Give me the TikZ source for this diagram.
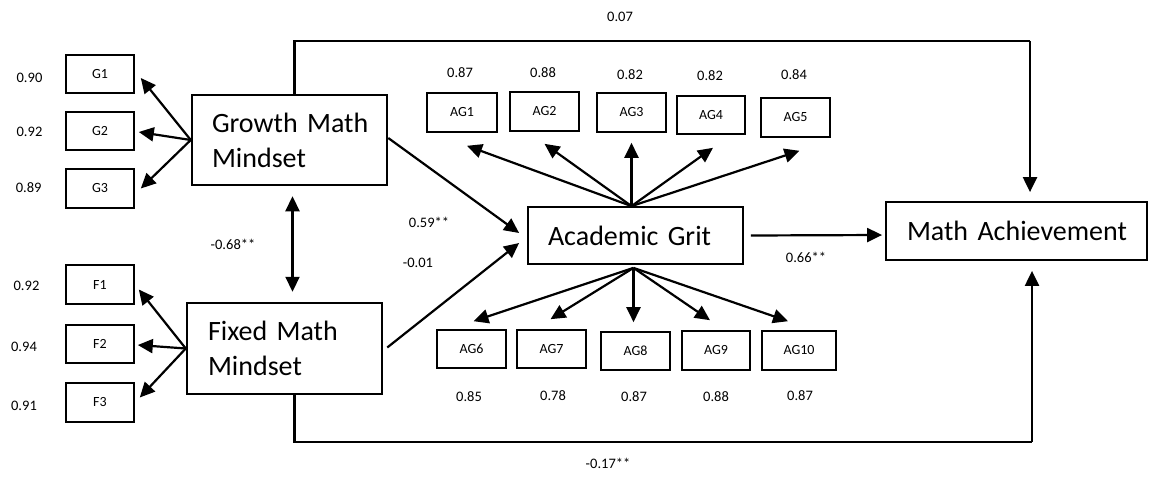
\documentclass[tikz,border=0pt]{standalone}
\usepackage{fontspec}
\setmainfont{Carlito}
\usetikzlibrary{arrows.meta,calc}
\begin{document}
\begin{tikzpicture}[x=1pt,y=-1pt,
  small/.style={draw, line width=1.6pt, inner sep=0pt, font=\fontsize{14}{16}\selectfont},
  big/.style={draw, inner ysep=0pt, align=left, font=\fontsize{28}{35}\selectfont},
  lab/.style={font=\fontsize{14.5}{17}\selectfont, inner sep=0pt},
  arr/.style={line width=2.2pt, -{Triangle[length=15pt,width=14pt]}},
  darr/.style={line width=2.2pt, {Triangle[length=15pt,width=14pt]}-{Triangle[length=15pt,width=14pt]}},
  conn/.style={line width=2.2pt}]
\useasboundingbox (0,0) rectangle (1150,484);

% indicator boxes
\node[small, minimum width=68pt, minimum height=38pt] (G1) at (100,74) {G1};
\node[small, minimum width=68pt, minimum height=38pt] (G2) at (100,131) {G2};
\node[small, minimum width=68pt, minimum height=39pt] (G3) at (100,188.5) {G3};
\node[small, minimum width=68pt, minimum height=39pt] (F1) at (100,284.5) {F1};
\node[small, minimum width=68pt, minimum height=38pt] (F2) at (100,344) {F2};
\node[small, minimum width=68pt, minimum height=39pt] (F3) at (100,402.5) {F3};

\node[small, minimum width=70pt, minimum height=39pt] (AG1) at (462,112.5) {AG1};
\node[small, minimum width=69pt, minimum height=39pt] (AG2) at (544.5,111.5) {AG2};
\node[small, minimum width=69pt, minimum height=39pt] (AG3) at (631.5,112.5) {AG3};
\node[small, minimum width=68pt, minimum height=38pt] (AG4) at (711,115) {AG4};
\node[small, minimum width=69pt, minimum height=39pt] (AG5) at (795.5,117.5) {AG5};

\node[small, minimum width=69pt, minimum height=38pt] (AG6) at (471.5,349) {AG6};
\node[small, minimum width=69pt, minimum height=38pt] (AG7) at (551.5,349) {AG7};
\node[small, minimum width=69pt, minimum height=38pt] (AG8) at (635.5,351) {AG8};
\node[small, minimum width=68pt, minimum height=39pt] (AG9) at (716,350.5) {AG9};
\node[small, minimum width=74pt, minimum height=39pt] (AG10) at (799,350.5) {AG10};

% latent boxes
\node[big, line width=2.5pt, minimum height=90pt, inner xsep=20pt, text width=155pt] (growth) at (289.5,140) {\mbox{Growth Math}\\Mindset};
\node[big, line width=2.5pt, minimum height=91pt, inner xsep=21pt, text width=153pt] (fixed) at (284.5,348.5) {\mbox{Fixed Math}\\Mindset};
\node[big, line width=1.8pt, minimum height=57pt, inner xsep=20pt, text width=175pt] (AG) at (635.5,235.5) {\mbox{Academic Grit}};
\node[big, line width=1.8pt, minimum height=58pt, inner xsep=21pt, text width=219pt] (MA) at (1016.5,231) {\mbox{Math Achievement}};

% loadings
\draw[arr] (growth.west) -- ($(G1.east)+(6,4)$);
\draw[arr] (growth.west) -- ($(G2.east)+(4,1)$);
\draw[arr] (growth.west) -- ($(G3.east)+(6,0)$);
\draw[arr] (fixed.west) -- ($(F1.east)+(4,5)$);
\draw[arr] (fixed.west) -- ($(F2.east)+(3,1)$);
\draw[arr] (fixed.west) -- ($(F3.east)+(5,-5)$);

\draw[arr] ($(AG.north)+(-4,0)$) -- ($(AG1.south)+(5,13)$);
\draw[arr] ($(AG.north)+(-4,0)$) -- ($(AG2.south)+(0,12)$);
\draw[arr] ($(AG.north)+(-4,0)$) -- ($(AG3.south)+(0,10)$);
\draw[arr] ($(AG.north)+(-4,0)$) -- ($(AG4.south)+(2,13)$);
\draw[arr] ($(AG.north)+(-4,0)$) -- ($(AG5.south)+(4,13)$);

\draw[arr] ($(AG.south)+(-2,3)$) -- ($(AG6.north)+(2,-8)$);
\draw[arr] ($(AG.south)+(-2,3)$) -- ($(AG7.north)+(-1,-10)$);
\draw[arr] ($(AG.south)+(-2,3)$) -- ($(AG8.north)+(-2,-9)$);
\draw[arr] ($(AG.south)+(-2,3)$) -- ($(AG9.north)+(-6,-10)$);
\draw[arr] ($(AG.south)+(-2,3)$) -- ($(AG10.north)+(-11,-9)$);

% structural paths
\draw[arr] ($(growth.east)+(0,-2)$) -- ($(AG.west)+(-8,-2.5)$);
\draw[arr] ($(fixed.east)+(4,-1)$) -- ($(AG.west)+(-8,7.5)$);
\draw[arr] ($(AG.east)+(7,0)$) -- ($(MA.west)+(-3,4)$);
\draw[darr] ($(growth.south)+(3,10)$) -- ($(fixed.north)+(8,-10)$);

\coordinate (tr) at (1030,41);
\coordinate (br) at (1032,442);
\draw[conn, line join=miter] ($(growth.north)+(5,0)$) |- (tr);
\draw[arr] (tr) -- ($(MA.north)+(13.5,-9)$);
\draw[conn, line join=miter] ($(fixed.south)+(10,0)$) |- (br);
\draw[arr] (br) -- ($(MA.south)+(15.5,10)$);

% labels
\node[lab] (l1) at (29.5,78) {0.90};
\node[lab] (l2) at (29.5,132) {0.92};
\node[lab] (l3) at (28.7,188) {0.89};
\node[lab] (l4) at (26.5,286) {0.92};
\node[lab] (l5) at (24,347) {0.94};
\node[lab] (l6) at (24,406) {0.91};

\node[lab] (l7) at (460,73) {0.87};
\node[lab] (l8) at (543,73) {0.88};
\node[lab] (l9) at (630,75) {0.82};
\node[lab] (l10) at (710,76) {0.82};
\node[lab] (l11) at (794,75) {0.84};

\node[lab] (l12) at (469,397) {0.85};
\node[lab] (l13) at (553,396) {0.78};
\node[lab] (l14) at (634,397) {0.87};
\node[lab] (l15) at (716,397) {0.88};
\node[lab] (l16) at (800,396) {0.87};

\node[lab] (l17) at (620,17) {0.07};
\node[lab] (l18) at (608,463) {-0.17**};
\node[lab] (l19) at (233,244) {-0.68**};
\node[lab] (l20) at (429,222) {0.59**};
\node[lab] (l21) at (418,263) {-0.01};
\node[lab] (l22) at (806,257) {0.66**};
\end{tikzpicture}
\end{document}
